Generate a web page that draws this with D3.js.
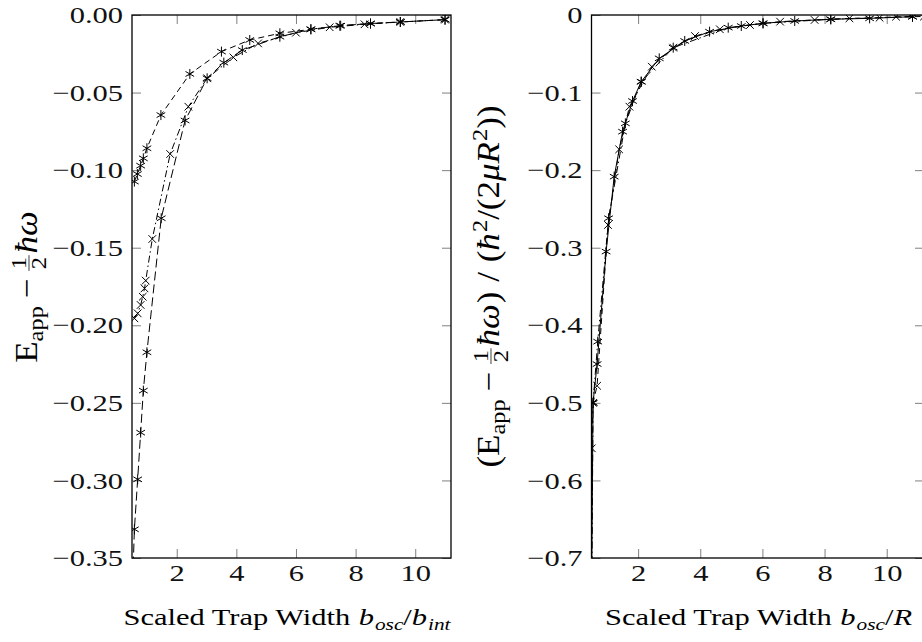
<!DOCTYPE html>
<html>
<head>
<meta charset="utf-8">
<script src="https://cdn.jsdelivr.net/npm/d3@7"></script>
<style>
  body { margin: 0; background: #fff; }
  svg { display: block; }
</style>
</head>
<body>
<script>
// ---- data ----
const xTicks = [2, 4, 6, 8, 10];
const xTickLabels = ["2", "4", "6", "8", "10"];

const leftYTicks = [0, -0.05, -0.1, -0.15, -0.2, -0.25, -0.3, -0.35];
const leftYTickLabels = ["0.00", "\u22120.05", "\u22120.10", "\u22120.15", "\u22120.20", "\u22120.25", "\u22120.30", "\u22120.35"];
const rightYTicks = [0, -0.1, -0.2, -0.3, -0.4, -0.5, -0.6, -0.7];
const rightYTickLabels = ["0", "\u22120.1", "\u22120.2", "\u22120.3", "\u22120.4", "\u22120.5", "\u22120.6", "\u22120.7"];

// left panel: E_app - hbar w / 2 vs b_osc/b_int
const leftDashedX = [0.58, 0.68, 0.79, 0.88, 1.0, 1.47, 2.44, 3.5, 4.45, 5.46, 6.5, 7.5, 8.5, 9.5, 11.0];
const leftDashedY = [-0.1074, -0.1025, -0.0971, -0.0924, -0.0859, -0.0645, -0.038, -0.0236, -0.0161, -0.0118, -0.0092, -0.0069, -0.0055, -0.0045, -0.003];
const leftDashDotX = [0.58, 0.69, 0.79, 0.86, 0.92, 0.96, 1.18, 1.78, 2.39, 3.02, 3.9, 4.73, 6.0, 7.13, 8.3, 9.5, 11.0];
const leftDashDotY = [-0.1955, -0.1923, -0.1869, -0.1816, -0.1762, -0.1712, -0.1444, -0.0896, -0.0591, -0.0408, -0.0273, -0.0183, -0.0114, -0.0079, -0.006, -0.0045, -0.003];
const leftLongX = [0.5, 0.58, 0.69, 0.79, 0.88, 1.0, 1.48, 2.28, 3.02, 3.58, 4.2, 5.46, 6.5, 7.47, 8.5, 9.5, 11.0];
const leftLongY = [-0.38, -0.3315, -0.2993, -0.2692, -0.2421, -0.2174, -0.131, -0.068, -0.0408, -0.0307, -0.0226, -0.014, -0.0092, -0.0069, -0.0055, -0.0045, -0.003];

// right panel: scaled energy vs b_osc/R
const rightSolidX = [0.5, 0.55, 0.68, 0.97, 1.23, 1.5, 1.82, 2.1, 2.68, 3.5, 4.3, 5.32, 6.02, 7.04, 8.2, 9.45, 10.83];
const rightSolidY = [-0.75, -0.5, -0.45, -0.305, -0.2084, -0.1504, -0.1109, -0.086, -0.0559, -0.0335, -0.0215, -0.0142, -0.0107, -0.0077, -0.0055, -0.0043, -0.0022];
const rightDashedX = [0.5, 0.51, 0.55, 0.68, 1.03, 1.39, 1.72, 2.44, 3.13, 3.83, 4.63, 5.6, 6.57, 7.68, 8.8, 9.77, 10.3, 11.2];
const rightDashedY = [-0.72, -0.5586, -0.5, -0.478, -0.2707, -0.1732, -0.1182, -0.0666, -0.0421, -0.0271, -0.0184, -0.0129, -0.0086, -0.0064, -0.0043, -0.0035, -0.0022, -0.002];
const rightDashDotX = [0.5, 0.55, 0.7, 1.05, 1.59, 2.1, 3.13, 4.9, 6.02, 8.2, 10.83];
const rightDashDotY = [-0.8, -0.5, -0.4211, -0.262, -0.1397, -0.086, -0.0421, -0.0163, -0.0107, -0.0055, -0.0022];

// ---- layout ----
const W = 922, H = 642;
const FONT = "'Liberation Serif', 'Times New Roman', serif";
const FS = 24;
const SX = 1.27;        // the picture is stretched sideways
const FSY = 35, SXY = 0.88;   // rotated axis titles come out longer
const plotTop = 15, plotBottom = 558;

const zip = (xs, ys) => xs.map((v, i) => [v, ys[i]]);

// label pieces
const leftYLabel = [
  {t: "E"}, {t: "app", sub: true}, {gap: 0.22}, {t: "\u2212"}, {gap: 0.22},
  {frac: ["1", "2"]}, {t: "\u0127\u03c9", it: true}
];
const rightYLabel = [
  {t: "("}, {t: "E"}, {t: "app", sub: true}, {gap: 0.22}, {t: "\u2212"}, {gap: 0.22},
  {frac: ["1", "2"]}, {t: "\u0127\u03c9", it: true}, {t: ")"}, {gap: 0.28}, {t: "/"}, {gap: 0.28},
  {t: "("}, {t: "\u0127", it: true}, {t: "2", sup: true}, {t: "/(2"}, {t: "\u03bcR", it: true},
  {t: "2", sup: true}, {t: "))"}
];
const leftXLabel = [
  {t: "Scaled Trap Width"}, {gap: 0.28}, {t: "b", it: true}, {t: "osc", it: true, sub: true},
  {t: "/"}, {t: "b", it: true}, {t: "int", it: true, sub: true}
];
const rightXLabel = [
  {t: "Scaled Trap Width"}, {gap: 0.28}, {t: "b", it: true}, {t: "osc", it: true, sub: true},
  {t: "/"}, {t: "R", it: true}
];

const panels = [
  {
    x0: 132, x1: 451, yDomain: [-0.35, 0],
    yTicks: leftYTicks, yTickLabels: leftYTickLabels,
    series: [
      {pts: zip(leftDashedX, leftDashedY), dash: "6,4", mark: "star"},
      {pts: zip(leftDashDotX, leftDashDotY), dash: "7,3,1.5,3", mark: "x"},
      {pts: zip(leftLongX, leftLongY), dash: "9,4", mark: "star"}
    ],
    yLabel: leftYLabel, yLabelX: 37, xLabel: leftXLabel, xLabelX: 287
  },
  {
    x0: 591.5, x1: 924, yDomain: [-0.7, 0],
    yTicks: rightYTicks, yTickLabels: rightYTickLabels,
    series: [
      {pts: zip(rightSolidX, rightSolidY), dash: null, mark: "star"},
      {pts: zip(rightDashedX, rightDashedY), dash: "6,4", mark: "x"},
      {pts: zip(rightDashDotX, rightDashDotY), dash: "7,3,1.5,3", mark: "star"}
    ],
    yLabel: rightYLabel, yLabelX: 499, xLabel: rightXLabel, xLabelX: 759
  }
];

const svg = d3.select("body").append("svg")
  .attr("width", W)
  .attr("height", H)
  .attr("font-family", FONT);

// small helper for TeX-ish labels, laid out left to right then centred
function mathText(parent, parts, fs) {
  const inner = parent.append("g");
  let x = 0;
  parts.forEach(p => {
    if (p.gap) { x += p.gap * fs; return; }
    if (p.frac) {
      const num = inner.append("text").attr("font-size", 0.7 * fs).attr("y", -0.36 * fs).text(p.frac[0]);
      const den = inner.append("text").attr("font-size", 0.7 * fs).attr("y", 0.3 * fs).text(p.frac[1]);
      const w = Math.max(num.node().getComputedTextLength(), den.node().getComputedTextLength()) + 0.1 * fs;
      num.attr("x", x + w / 2).attr("text-anchor", "middle");
      den.attr("x", x + w / 2).attr("text-anchor", "middle");
      inner.append("line")
        .attr("x1", x).attr("x2", x + w)
        .attr("y1", -0.26 * fs).attr("y2", -0.26 * fs)
        .attr("stroke", "#000").attr("stroke-width", 0.8);
      x += w + 0.05 * fs;
      return;
    }
    const small = p.sub || p.sup;
    const t = inner.append("text")
      .attr("x", x)
      .attr("y", p.sub ? 0.2 * fs : p.sup ? -0.38 * fs : 0)
      .attr("font-size", small ? 0.7 * fs : fs)
      .attr("font-style", p.it ? "italic" : null)
      .text(p.t);
    x += t.node().getComputedTextLength() + (p.it && !small ? 0.03 * fs : 0);
  });
  inner.attr("transform", `translate(${-x / 2},0)`);
  return inner;
}

function markPath(type) {
  if (type === "x") {
    const r = 3.8;
    return `M${-r},${-r}L${r},${r}M${-r},${r}L${r},${-r}`;
  }
  const r = 5, c = r * Math.cos(Math.PI / 6), s = r * Math.sin(Math.PI / 6);
  return `M0,${-r}L0,${r}M${-c},${-s}L${c},${s}M${-c},${s}L${c},${-s}`;
}

panels.forEach((p, i) => {
  const x = d3.scaleLinear().domain([0.5, 11.2]).range([p.x0, p.x1]);
  const y = d3.scaleLinear().domain(p.yDomain).range([plotBottom, plotTop]);
  const g = svg.append("g");

  g.append("clipPath").attr("id", "clip" + i)
    .append("rect")
    .attr("x", p.x0).attr("y", plotTop)
    .attr("width", p.x1 - p.x0).attr("height", plotBottom - plotTop);

  // ticks on all four sides, pointing inwards
  const xb = g.append("g").attr("transform", `translate(0,${plotBottom})`)
    .call(d3.axisBottom(x).tickValues(xTicks).tickSizeInner(-9).tickSizeOuter(0)
      .tickFormat((d, j) => xTickLabels[j]));
  xb.selectAll("text").attr("y", 23).attr("dy", null).attr("transform", `scale(${SX},1)`);

  g.append("g").attr("transform", `translate(0,${plotTop})`)
    .call(d3.axisTop(x).tickValues(xTicks).tickSizeInner(-9).tickSizeOuter(0).tickFormat(""));

  const yl = g.append("g").attr("transform", `translate(${p.x0},0)`)
    .call(d3.axisLeft(y).tickValues(p.yTicks).tickSizeInner(-9).tickSizeOuter(0)
      .tickFormat((d, j) => p.yTickLabels[j]));
  yl.selectAll("text").attr("x", -9 / SX).attr("transform", `scale(${SX},1)`);

  g.append("g").attr("transform", `translate(${p.x1},0)`)
    .call(d3.axisRight(y).tickValues(p.yTicks).tickSizeInner(-9).tickSizeOuter(0).tickFormat(""));

  g.selectAll(".domain").remove();
  g.selectAll(".tick line").attr("stroke", "#808080").attr("stroke-width", 1);
  g.selectAll(".tick text")
    .attr("font-family", FONT).attr("font-size", FS).attr("fill", "#111");

  // curves
  const plot = g.append("g").attr("clip-path", `url(#clip${i})`);
  const line = d3.line().x(d => x(d[0])).y(d => y(d[1]));
  p.series.forEach(s => {
    plot.append("path")
      .datum(s.pts)
      .attr("d", line)
      .attr("fill", "none")
      .attr("stroke", "#000")
      .attr("stroke-width", 1)
      .attr("stroke-dasharray", s.dash);
    plot.selectAll(null)
      .data(s.pts)
      .enter()
      .append("path")
      .attr("transform", d => `translate(${x(d[0])},${y(d[1])})`)
      .attr("d", markPath(s.mark))
      .attr("fill", "none")
      .attr("stroke", "#000")
      .attr("stroke-width", 1);
  });

  // frame
  g.append("rect")
    .attr("x", p.x0).attr("y", plotTop)
    .attr("width", p.x1 - p.x0).attr("height", plotBottom - plotTop)
    .attr("fill", "none")
    .attr("stroke", "#000")
    .attr("stroke-width", 1.3);

  // axis titles
  const yt = g.append("g")
    .attr("transform", `translate(${p.yLabelX},${(plotTop + plotBottom) / 2}) scale(${SXY},1) rotate(-90)`);
  mathText(yt, p.yLabel, FSY);

  const xt = g.append("g")
    .attr("transform", `translate(${p.xLabelX},625) scale(${SX},1)`);
  mathText(xt, p.xLabel, FS);
});
</script>
</body>
</html>
